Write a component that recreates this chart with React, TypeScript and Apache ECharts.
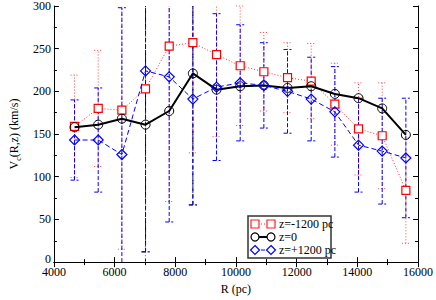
import React, { useEffect, useRef } from "react";
import * as echarts from "echarts";

// Data
const R = [4680, 5460, 6240, 7020, 7800, 8580, 9360, 10140, 10920, 11700, 12480, 13260, 14040, 14820, 15600];
const zMinus = [159, 180, 178, 203, 253, 257, 243, 230, 223, 216, 212, 185, 156, 148, 84];
const zMinusErr = [60, 68, 163, 215, 182, 129, 96, 70, 46, 41, 44, 48, 54, 62, 62];
const zZero = [158, 161, 168, 161, 177, 221, 202, 206, 207, 204, 206, 197, 192, 180, 149];
const zZeroErr: (number | null)[] = [null, null, null, 149, null, 154, null, null, null, null, null, null, null, null, null];
const zPlus = [143, 143, 126, 224, 217, 191, 205, 210, 207, 200, 191, 176, 137, 130, 122];
const zPlusErr = [47, 61, 172, 212, 170, 124, 86, 68, 50, 49, 49, 53, 55, 62, 70];

const seriesNames = ["z=-1200 pc", "z=0", "z=+1200 pc"];
const xTicks = [4000, 6000, 8000, 10000, 12000, 14000, 16000];
const yTicks = [0, 50, 100, 150, 200, 250, 300];

const FONT = "'Liberation Serif', 'DejaVu Serif', serif";

function errData(vals: number[], errs: (number | null)[]) {
  const out: number[][] = [];
  vals.forEach((v, i) => {
    const e = errs[i];
    if (e != null) out.push([R[i], v - e, v + e]);
  });
  return out;
}

function makeErrRender(color: string, dash: number[] | null, width: number) {
  return (params: any, api: any) => {
    const x = api.value(0);
    const lo = api.value(1);
    const hi = api.value(2);
    const cs = params.coordSys;
    const top = cs.y;
    const bottom = cs.y + cs.height;
    const pLo = api.coord([x, lo]);
    const pHi = api.coord([x, hi]);
    const y1 = Math.min(bottom, pLo[1]);
    const y2 = Math.max(top, pHi[1]);
    const style: any = { stroke: color, lineWidth: width, fill: null };
    if (dash) style.lineDash = dash;
    const children: any[] = [
      { type: "line", shape: { x1: pLo[0], y1, x2: pLo[0], y2 }, style },
    ];
    const hw = 4;
    if (pLo[1] <= bottom) {
      children.push({ type: "line", shape: { x1: pLo[0] - hw, y1: pLo[1], x2: pLo[0] + hw, y2: pLo[1] }, style });
    }
    if (pHi[1] >= top) {
      children.push({ type: "line", shape: { x1: pHi[0] - hw, y1: pHi[1], x2: pHi[0] + hw, y2: pHi[1] }, style });
    }
    return { type: "group", children };
  };
}

export default function App() {
  const ref = useRef<HTMLDivElement>(null);
  useEffect(() => {
    if (!ref.current) return;
    const chart = echarts.init(ref.current, null, { renderer: "svg" });
    const pair = (vals: number[]) => vals.map((v, i) => [R[i], v]);
    const axisCommon = {
      axisLine: { show: true, lineStyle: { color: "#000", width: 1 } },
      axisTick: { show: true, inside: true, length: 5, lineStyle: { color: "#000" } },
      minorTick: { show: true, splitNumber: 2, length: 3, lineStyle: { color: "#000" } },
      splitLine: { show: false },
      minorSplitLine: { show: false },
    };
    const legendX = 248;
    const legendY = 216;
    const rowY = [224, 237, 250];
    const sym1 = 255;
    const sym2 = 271;
    const legendStyles = [
      { color: "#ff2020", dash: [1, 2], width: 1, sym: "rect" },
      { color: "#000", dash: null, width: 2, sym: "circle" },
      { color: "#0000ff", dash: [4, 2], width: 1, sym: "diamond" },
    ];
    const legendGraphics: any[] = [
      { type: "rect", shape: { x: legendX, y: legendY, width: 83, height: 42 }, style: { fill: "#fff", stroke: "#333", lineWidth: 1.5 }, z: 100 },
    ];
    legendStyles.forEach((s, i) => {
      const y = rowY[i];
      const ls: any = { stroke: s.color, lineWidth: s.width };
      if (s.dash) ls.lineDash = s.dash;
      legendGraphics.push({ type: "line", shape: { x1: sym1, y1: y, x2: sym2, y2: y }, style: ls, z: 101 });
      [sym1, sym2].forEach((sx) => {
        const st = { fill: "#fff", stroke: s.color, lineWidth: 1.2 };
        if (s.sym === "rect") legendGraphics.push({ type: "rect", shape: { x: sx - 4, y: y - 4, width: 8, height: 8 }, style: st, z: 102 });
        else if (s.sym === "circle") legendGraphics.push({ type: "circle", shape: { cx: sx, cy: y, r: 4 }, style: st, z: 102 });
        else legendGraphics.push({ type: "polygon", shape: { points: [[sx, y - 4.5], [sx + 4.5, y], [sx, y + 4.5], [sx - 4.5, y]] }, style: st, z: 102 });
      });
      legendGraphics.push({
        type: "text", x: 279, y, z: 102,
        style: { text: seriesNames[i], fill: "#000", font: `12px ${FONT}`, verticalAlign: "middle", align: "left" },
      });
    });

    chart.setOption({
      animation: false,
      grid: { left: 37, right: 15, top: 4, bottom: 26, containLabel: false },
      textStyle: { fontFamily: FONT },
      xAxis: [
        {
          type: "value", min: xTicks[0], max: xTicks[xTicks.length - 1], interval: 2000,
          position: "bottom",
          name: "R (pc)", nameLocation: "middle", nameGap: 18,
          nameTextStyle: { fontFamily: FONT, fontSize: 12, color: "#000" },
          axisLabel: { fontFamily: FONT, fontSize: 12, lineHeight: 10, color: "#000", margin: 5, formatter: (v: number) => String(v) },
          ...axisCommon,
        },
        {
          type: "value", min: xTicks[0], max: xTicks[xTicks.length - 1], interval: 2000,
          position: "top", axisLabel: { show: false },
          ...axisCommon,
        },
      ],
      yAxis: [
        {
          type: "value", min: yTicks[0], max: yTicks[yTicks.length - 1], interval: 50,
          position: "left",
          name: "{n|V}{s|c}{n|(R,z) (km/s)}", nameLocation: "middle", nameGap: 26, nameRotate: 90,
          nameTextStyle: {
            fontFamily: FONT, fontSize: 12, color: "#000",
            rich: {
              n: { fontFamily: FONT, fontSize: 12, color: "#000", lineHeight: 16, verticalAlign: "middle" },
              s: { fontFamily: FONT, fontSize: 8, color: "#000", lineHeight: 16, verticalAlign: "bottom", padding: [6, 0, 0, 0] },
            },
          },
          axisLabel: {
            fontFamily: FONT, fontSize: 12, lineHeight: 10, color: "#000", margin: 3,
            formatter: (v: number) => (v === yTicks[0] ? "{z|" + v + "}" : String(v)),
            rich: { z: { fontFamily: FONT, fontSize: 12, lineHeight: 10, color: "#000", padding: [0, 0, 6, 0] } },
          },
          ...axisCommon,
        },
        {
          type: "value", min: yTicks[0], max: yTicks[yTicks.length - 1], interval: 50,
          position: "right", axisLabel: { show: false },
          ...axisCommon,
        },
      ],
      series: [
        {
          type: "custom", name: "err-", renderItem: makeErrRender("#ff4040", [1, 2], 1),
          data: errData(zMinus, zMinusErr), encode: { x: 0, y: [1, 2] }, z: 1, silent: true,
        },
        {
          type: "custom", name: "err0", renderItem: makeErrRender("#000", [4, 3], 1),
          data: errData(zZero, zZeroErr), encode: { x: 0, y: [1, 2] }, z: 1, silent: true,
        },
        {
          type: "custom", name: "err+", renderItem: makeErrRender("#0000ff", [4, 2], 1),
          data: errData(zPlus, zPlusErr), encode: { x: 0, y: [1, 2] }, z: 1, silent: true,
        },
        {
          type: "line", name: seriesNames[0], data: pair(zMinus), z: 3,
          symbol: "rect", symbolSize: 8, showAllSymbol: true,
          lineStyle: { color: "#ff3030", width: 1, type: [1, 2] },
          itemStyle: { color: "#fff", borderColor: "#ff0000", borderWidth: 1.2 },
        },
        {
          type: "line", name: seriesNames[1], data: pair(zZero), z: 4,
          symbol: "circle", symbolSize: 9, showAllSymbol: true,
          lineStyle: { color: "#000", width: 2 },
          itemStyle: { color: "rgba(255,255,255,0)", borderColor: "#000", borderWidth: 1 },
        },
        {
          type: "line", name: seriesNames[2], data: pair(zPlus), z: 5,
          symbol: "diamond", symbolSize: 10, showAllSymbol: true,
          lineStyle: { color: "#0000ff", width: 1, type: [5, 3] },
          itemStyle: { color: "rgba(255,255,255,0)", borderColor: "#0000ff", borderWidth: 1.2 },
        },
      ],
      graphic: legendGraphics,
    });
    return () => chart.dispose();
  }, []);
  return <div ref={ref} style={{ width: 436, height: 300, position: "absolute", left: 0, top: 0 }} />;
}
